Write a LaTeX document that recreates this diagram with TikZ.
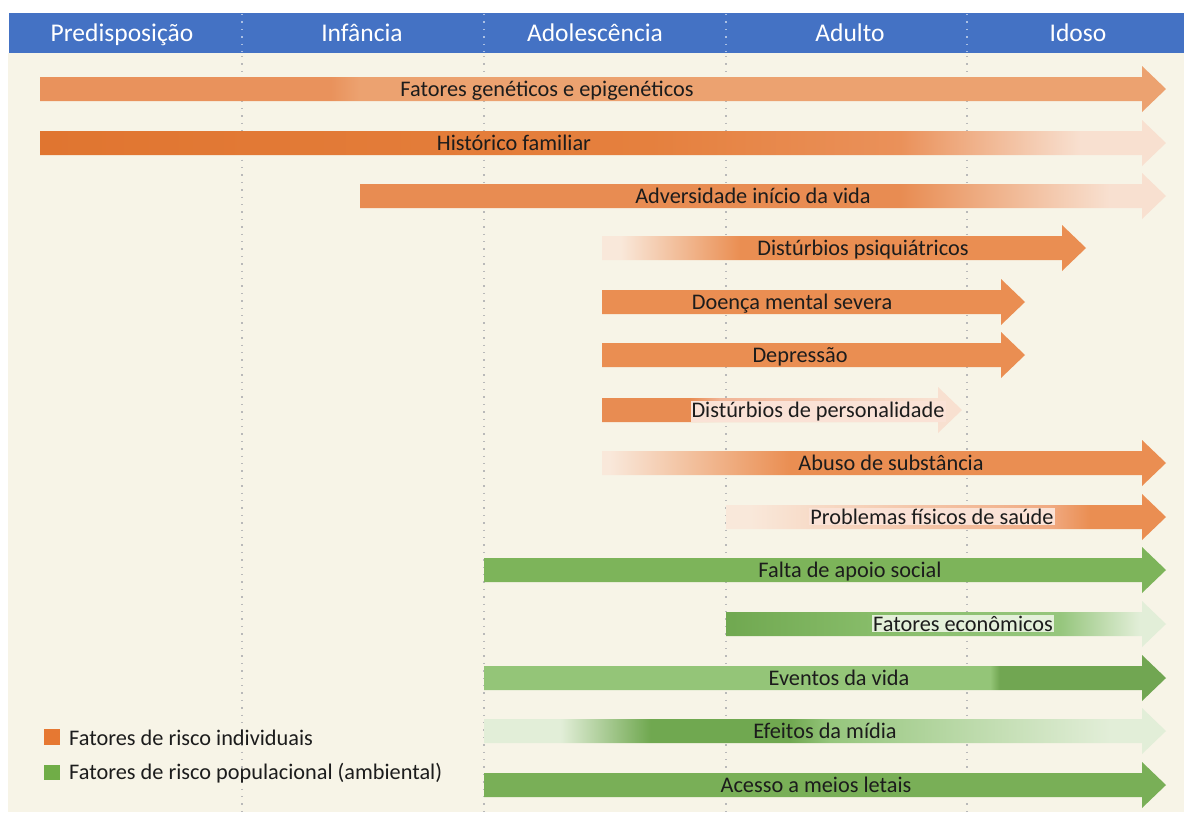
\documentclass[tikz,border=0pt]{standalone}
\usepackage{fontspec}
\setmainfont{Carlito}
\definecolor{headblue}{RGB}{68,114,196}
\definecolor{cream}{RGB}{247,244,231}
\definecolor{textgray}{RGB}{28,28,28}
\definecolor{orgA}{RGB}{233,146,92}
\definecolor{orgB}{RGB}{236,162,112}
\definecolor{orgH1}{RGB}{224,117,48}
\definecolor{orgH2}{RGB}{229,128,62}
\definecolor{orgH3}{RGB}{234,145,90}
\definecolor{orgC}{RGB}{232,140,82}
\definecolor{orgmid}{RGB}{234,142,82}
\definecolor{orgsoft}{RGB}{241,180,150}
\definecolor{orgwarm}{RGB}{240,170,130}
\definecolor{orgpale}{RGB}{248,224,208}
\definecolor{orgfaint}{RGB}{249,232,218}
\definecolor{pinkbox}{RGB}{250,226,214}
\definecolor{grnmid}{RGB}{125,180,90}
\definecolor{grnA}{RGB}{112,168,80}
\definecolor{grnB}{RGB}{135,188,105}
\definecolor{grnC}{RGB}{150,198,125}
\definecolor{grnlight}{RGB}{148,197,120}
\definecolor{grndark}{RGB}{113,166,82}
\definecolor{grnpale}{RGB}{226,238,216}
\definecolor{grnbox}{RGB}{228,240,218}
\definecolor{legorange}{RGB}{230,120,50}
\definecolor{leggreen}{RGB}{112,173,71}

% horizontal fades, bounding box of the arrow is 25bp..75bp
\pgfdeclarehorizontalshading{genshade}{100bp}{color(0bp)=(orgA); color(37.9bp)=(orgA); color(39.2bp)=(orgB); color(100bp)=(orgB)}
\pgfdeclarehorizontalshading{famshade}{100bp}{color(0bp)=(orgH1); color(25bp)=(orgH1); color(52.1bp)=(orgH2); color(63.2bp)=(orgH3); color(71.2bp)=(orgpale); color(100bp)=(orgpale)}
\pgfdeclarehorizontalshading{advshade}{100bp}{color(0bp)=(orgC); color(58.5bp)=(orgC); color(71.5bp)=(orgpale); color(100bp)=(orgpale)}
\pgfdeclarehorizontalshading{psyshade}{100bp}{color(0bp)=(orgfaint); color(26.9bp)=(orgfaint); color(39.3bp)=(orgmid); color(100bp)=(orgmid)}
\pgfdeclarehorizontalshading{pershade}{100bp}{color(0bp)=(orgC); color(37.2bp)=(orgC); color(41.4bp)=(orgsoft); color(70.5bp)=(orgpale); color(100bp)=(orgpale)}
\pgfdeclarehorizontalshading{abushade}{100bp}{color(0bp)=(orgfaint); color(25.7bp)=(orgfaint); color(41.7bp)=(orgmid); color(100bp)=(orgmid)}
\pgfdeclarehorizontalshading{probshade}{100bp}{color(0bp)=(orgfaint); color(27.7bp)=(orgfaint); color(61.8bp)=(orgwarm); color(66.4bp)=(orgmid); color(100bp)=(orgmid)}
\pgfdeclarehorizontalshading{ecoshade}{100bp}{color(0bp)=(grnA); color(25bp)=(grnA); color(41.4bp)=(grnB); color(63bp)=(grnC); color(72bp)=(grnpale); color(100bp)=(grnpale)}
\pgfdeclarehorizontalshading{evtshade}{100bp}{color(0bp)=(grnlight); color(62.1bp)=(grnlight); color(62.8bp)=(grndark); color(100bp)=(grndark)}
\pgfdeclarehorizontalshading{medshade}{100bp}{color(0bp)=(grnpale); color(30.6bp)=(grnpale); color(37.2bp)=(grnA); color(47.4bp)=(grnA); color(50.4bp)=(grnC); color(70.9bp)=(grnpale); color(100bp)=(grnpale)}

\begin{document}
\begin{tikzpicture}[x=1pt, y=-1pt,
    bartext/.style={font=\fontsize{22.3}{25}\selectfont, text=textgray, inner sep=1pt, anchor=base},
    headtext/.style={font=\fontsize{25.5}{28}\selectfont, text=white, anchor=base},
    legtext/.style={font=\fontsize{22.3}{25}\selectfont, text=textgray, anchor=base west, inner sep=0pt},
    agesep/.style={color=gray!55, line width=1.4pt, dash pattern=on 1.4pt off 6pt}]

    % constants
    \def\tip{1166}
    \def\arrowshape#1#2#3{(#1,#3-12) -- (#2-24,#3-12) -- (#2-24,#3-23) -- (#2,#3) -- (#2-24,#3+23) -- (#2-24,#3+12) -- (#1,#3+12) -- cycle}

    \useasboundingbox (0,0) rectangle (1184,812);
    \fill[white] (0,0) rectangle (1184,812);
    \fill[cream] (8,53) rectangle (1184,812);

    % header
    \fill[headblue] (9,13) rectangle (1184,53);
    \node[headtext] (hpre) at (122,41) {Predisposição};
    \node[headtext] (hinf) at (362,41) {Infância};
    \node[headtext] (hado) at (595,41) {Adolescência};
    \node[headtext] (hadu) at (850,41) {Adulto};
    \node[headtext] (hido) at (1078,41) {Idoso};

    % age separators
    \draw[agesep] (242,56) -- (242,812);
    \draw[agesep] (484,56) -- (484,812);
    \draw[agesep] (726,56) -- (726,812);
    \draw[agesep] (967,56) -- (967,812);
    \draw[agesep, color=headblue!45!white] (242,14) -- (242,53);
    \draw[agesep, color=headblue!45!white] (484,14) -- (484,53);
    \draw[agesep, color=headblue!45!white] (726,14) -- (726,53);
    \draw[agesep, color=headblue!45!white] (967,14) -- (967,53);

    % individual risk factors
    \shade[shading=genshade] \arrowshape{40}{\tip}{89};
    \node[bartext] (genet) at (547,96) {Fatores genéticos e epigenéticos};

    \shade[shading=famshade] \arrowshape{40}{\tip}{143};
    \node[bartext] (famil) at (514,150) {Histórico familiar};

    \shade[shading=advshade] \arrowshape{360}{\tip}{196};
    \node[bartext] (adver) at (753,203) {Adversidade início da vida};

    \shade[shading=psyshade] \arrowshape{602}{1086}{248};
    \node[bartext] (psiq) at (863,255) {Distúrbios psiquiátricos};

    \fill[orgmid] \arrowshape{602}{1025}{302};
    \node[bartext] (doenca) at (792,309) {Doença mental severa};

    \fill[orgmid] \arrowshape{602}{1025}{355};
    \node[bartext] (depr) at (800,362) {Depressão};

    \shade[shading=pershade] \arrowshape{602}{962}{410};
    \node[bartext, fill=pinkbox] (perso) at (818,417) {Distúrbios de personalidade};

    \shade[shading=abushade] \arrowshape{602}{\tip}{463};
    \node[bartext] (abuso) at (891,470) {Abuso de substância};

    \shade[shading=probshade] \arrowshape{726}{\tip}{517};
    \node[bartext, fill=pinkbox] (saude) at (932,524) {Problemas físicos de saúde};

    % population (environmental) risk factors
    \fill[grnmid] \arrowshape{484}{\tip}{570};
    \node[bartext] (apoio) at (850,577) {Falta de apoio social};

    \shade[shading=ecoshade] \arrowshape{726}{\tip}{624};
    \node[bartext, fill=grnbox] (econ) at (963,631) {Fatores econômicos};

    \shade[shading=evtshade] \arrowshape{484}{\tip}{678};
    \node[bartext] (event) at (839,685) {Eventos da vida};

    \shade[shading=medshade] \arrowshape{484}{\tip}{731};
    \node[bartext] (midia) at (825,738) {Efeitos da mídia};

    \fill[grnmid!97!black] \arrowshape{484}{\tip}{785};
    \node[bartext] (letal) at (816,792) {Acesso a meios letais};

    % legend
    \fill[legorange] (44,729) rectangle (60,745);
    \node[legtext] (legind) at (69,745) {Fatores de risco individuais};
    \fill[leggreen] (44,765) rectangle (60,780);
    \node[legtext] (legpop) at (69,779) {Fatores de risco populacional (ambiental)};

\end{tikzpicture}
\end{document}
